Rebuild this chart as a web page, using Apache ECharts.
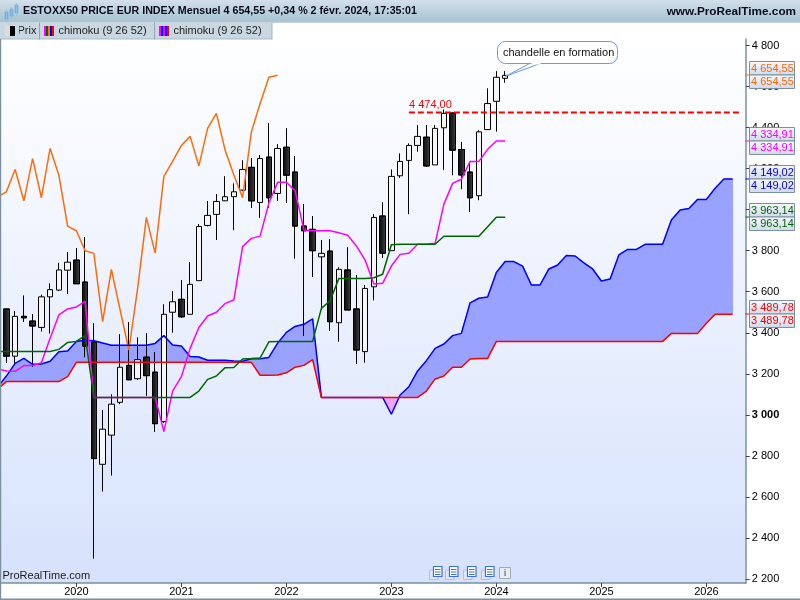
<!DOCTYPE html>
<html><head><meta charset="utf-8">
<style>html,body{margin:0;padding:0;background:#fff}#c{width:800px;height:600px}</style>
<script src="https://cdn.jsdelivr.net/npm/echarts@6/dist/echarts.min.js"></script>
</head><body><div id="c"></div>
<script>
// Month list starts in Apr 2019 (just off the left edge) and ends in May 2026
const startYear = 2019, startMonth = 4, monthCount = 86;
const yTicks = [2200,2400,2600,2800,3000,3200,3400,3600,3800,4000,4200,4400,4600,4800];

const opens  = [3430,3516,3286,3480,3457,3426,3575,3608,3705,3754,3647,3354,2759,2901,3061,3241,3176,3281,3208,2967,3500,3563,3490,3654,3923,3977,4043,4063,4095,4206,4035,4256,4079,4304,4183,3920,3904,3770,3798,3449,3706,3516,3308,3624,3969,3800,4165,4240,4313,4353,4218,4399,4471,4293,4183,4068,4390,4528,4640];
const closes = [3516,3286,3480,3473,3433,3575,3610,3706,3744,3639,3335,2787,2930,3052,3232,3171,3269,3191,2957,3490,3551,3478,3636,3918,3972,4040,4063,4087,4196,4043,4249,4058,4298,4168,3920,3897,3800,3787,3454,3709,3511,3316,3616,3962,3788,4162,4235,4313,4357,4213,4396,4469,4290,4169,4058,4379,4517,4645,4654.55];
const lows   = [3420,3253,3248,3454,3234,3406,3396,3603,3589,3639,3281,2300,2626,2704,3052,3171,3170,3094,2918,2961,3400,3473,3490,3654,3918,3852,4042,3900,4090,4009,3960,4010,4042,4033,3762,3384,3673,3511,3409,3356,3511,3248,3254,3558,3766,3800,4155,3978,4282,4209,4218,4194,4168,4100,3989,4046,4390,4380,4618];
const highs  = [3530,3516,3506,3581,3491,3586,3641,3741,3793,3813,3866,3446,3024,3100,3393,3451,3378,3397,3305,3539,3603,3657,3745,3930,4042,4076,4163,4128,4241,4251,4266,4421,4319,4396,4261,4027,3969,3852,3855,3719,3816,3681,3633,3978,4035,4196,4274,4323,4412,4412,4412,4488,4471,4330,4227,4387,4591,4675,4675];

const tenkan = [3223,3214,3212,3240,3240,3254,3373,3487,3516,3526,3553,3085,3085,3085,3085,3085,3085,3085,3085,2918,3116,3186,3324,3426,3482,3500,3543,3560,3820,3860,3871,4032,4133,4133,4092,3901,3897,3897,3897,3887,3875,3823,3754,3638,3641,3725,3782,3787,3831,3831,3836,4027,4128,4148,4235,4235,4294,4334.91,4334.91];
const kijun  = [3309,3309,3309,3309,3309,3309,3309,3319,3353,3358,3386,3085,3085,3085,3085,3085,3085,3085,3085,3085,3085,3085,3085,3116,3173,3189,3230,3231,3272,3274,3277,3356,3358,3358,3358,3358,3358,3519,3556,3665,3665,3665,3665,3668,3685,3829,3831,3831,3831,3831,3831,3870,3870,3870,3870,3870,3917,3963.14,3963.14];
const spanA  = [3135,3189,3251,3275,3246,3248,3261,3308,3311,3357,3363,3361,3350,3339,3339,3339,3339,3339,3348,3386,3340,3335,3284,3282,3266,3266,3266,3262,3261,3273,3273,3280,3349,3402,3431,3441,3468,3085,3085,3085,3085,3085,3085,3085,3085,3003,3097,3137,3214,3264,3324,3345,3386,3397,3546,3568,3574,3694,3747,3747,3725,3633,3633,3711,3730,3777,3774,3741,3711,3652,3662,3779,3806,3806,3831,3831,3831,3949,3998,4006,4050,4050,4104,4149.02,4149.02];
const spanB  = [3125,3162,3162,3162,3162,3162,3162,3162,3186,3256,3256,3256,3256,3256,3256,3256,3256,3256,3256,3256,3256,3256,3256,3256,3256,3256,3256,3256,3256,3256,3193,3193,3194,3205,3232,3241,3269,3085,3085,3085,3085,3085,3085,3085,3085,3085,3085,3085,3085,3116,3175,3189,3232,3232,3272,3275,3275,3358,3358,3358,3358,3358,3358,3358,3358,3358,3358,3358,3358,3358,3358,3358,3358,3358,3358,3358,3358,3397,3397,3397,3397,3446,3489.78,3489.78,3489.78];
const level = 4474;
const levelFrom = 47;
const tags = [[4654.55,'#ff6600'],[4334.91,'#ff00ff'],[4149.02,'#0000ff'],[3963.14,'#006600'],[3489.78,'#ff0000']];

const months = [];
for (let i = 0; i < monthCount; i++) {
  const t = startYear * 12 + startMonth - 1 + i;
  months.push(Math.floor(t / 12) + '-' + String(t % 12 + 1).padStart(2, '0'));
}
const candleData = opens.map((o, i) => [o, closes[i], lows[i], highs[i]]);
const chikou = closes.slice(26);
const levelData = months.map((m, i) => i >= levelFrom ? level : null);
const cloudSegs = spanA.slice(0, -1).map((a, i) => [i, a, spanB[i], spanA[i + 1], spanB[i + 1]]);

const frNum = (v, d) => {
  const s = v.toFixed(d).split('.');
  return s[0].replace(/\B(?=(\d{3})+$)/g, ' ') + (d ? ',' + s[1] : '');
};
const FONT = '"Liberation Sans", Arial, sans-serif';
const BORDER = '#7b909c';
const isJan = (idx, val) => val.endsWith('-01');

function line(data, color, extra) {
  return Object.assign({ type: 'line', data, symbol: 'none', showSymbol: false,
    lineStyle: { color, width: 1.5 }, itemStyle: { color }, animation: false, silent: true }, extra || {});
}

const BLUE_FILL = '#9aa2ff', PINK_FILL = '#f0a3fa';
function renderCloud(params, api) {
  const k = api.value(0), a0 = api.value(1), b0 = api.value(2), a1 = api.value(3), b1 = api.value(4);
  const pa0 = api.coord([k, a0]), pb0 = api.coord([k, b0]), pa1 = api.coord([k + 1, a1]), pb1 = api.coord([k + 1, b1]);
  const d0 = a0 - b0, d1 = a1 - b1;
  const poly = (points, fill) => ({ type: 'polygon', shape: { points },
    style: { fill, stroke: fill, lineWidth: 1 } });
  const children = [];
  if (d0 * d1 < 0) {
    const t = d0 / (d0 - d1);
    const c = [pa0[0] + t * (pa1[0] - pa0[0]), pa0[1] + t * (pa1[1] - pa0[1])];
    children.push(poly([pa0, c, pb0], d0 > 0 ? BLUE_FILL : PINK_FILL));
    children.push(poly([c, pa1, pb1], d1 > 0 ? BLUE_FILL : PINK_FILL));
  } else if (d0 !== 0 || d1 !== 0) {
    children.push(poly([pa0, pa1, pb1, pb0], (d0 + d1) > 0 ? BLUE_FILL : PINK_FILL));
  }
  return { type: 'group', children };
}

const chart = echarts.init(document.getElementById('c'), null, { width: 800, height: 600, renderer: 'canvas' });

const darkGrad = new echarts.graphic.LinearGradient(0, 0, 1, 0, [
  { offset: 0, color: '#0a0a0a' }, { offset: 0.5, color: '#222222' }, { offset: 1, color: '#484848' }]);

const option = {
  animation: false,
  backgroundColor: '#ffffff',
  grid: { left: -6.75, top: 39, width: 752.5, height: 544, containLabel: false, outerBoundsMode: 'none' },
  xAxis: {
    type: 'category', data: months, boundaryGap: true,
    axisLine: { show: true, lineStyle: { color: BORDER, width: 1.5 } },
    axisTick: { show: true, interval: isJan, alignWithLabel: true, length: 4, lineStyle: { color: '#445' } },
    axisLabel: { interval: isJan, formatter: v => v.slice(0, 4), color: '#000', fontFamily: FONT, fontSize: 11, margin: 3, hideOverlap: false },
    splitLine: { show: false }
  },
  yAxis: {
    type: 'value', position: 'right', min: 2180.5, max: 4831.6, scale: true,
    axisLine: { show: true, onZero: false, lineStyle: { color: BORDER, width: 1.5 } },
    axisTick: { show: true, length: 4, customValues: yTicks, lineStyle: { color: '#445' } },
    axisLabel: {
      customValues: yTicks, color: '#000', fontFamily: FONT, fontSize: 11, margin: 6,
      hideOverlap: false, showMinLabel: true, showMaxLabel: true,
      formatter: v => v === 3000 ? '{b|' + frNum(v, 0) + '}' : frNum(v, 0),
      rich: { b: { fontWeight: 'bold', fontFamily: FONT, fontSize: 11, color: '#000' } }
    },
    splitLine: { show: false }
  },
  series: [
    { type: 'custom', data: cloudSegs, renderItem: renderCloud, encode: { x: 0, y: [1, 2] }, clip: true, silent: true, animation: false, z: 1 },
    { type: 'candlestick', data: candleData, barWidth: 6, clip: true, silent: true, animation: false, z: 2,
      itemStyle: { color: '#f6f6f6', color0: darkGrad, borderColor: '#000', borderColor0: '#000', borderWidth: 1 } },
    line(chikou, '#ff6a0a', { z: 3 }),
    line(spanA, '#0000ff', { z: 3 }),
    line(spanB, '#ff0000', { z: 4 }),
    line(tenkan, '#ff00ff', { z: 5 }),
    line(kijun, '#006600', { z: 6 }),
    line(levelData, '#ff0000', { z: 7, lineStyle: { color: '#ff0000', width: 2, type: [6, 3] } })
  ]
};
chart.setOption(option);

// Chrome, drawn once the scale is known
const els = [];
const rect = (x, y, w, h, style, z, r) => els.push({ type: 'rect', silent: true, z: z === undefined ? 100 : z,
  shape: { x, y, width: w, height: h, r: r || 0 }, style });
const text = (x, y, s, fill, font, align, z) => els.push({ type: 'text', silent: true, z: z || 110, x, y,
  style: { text: s, fill, font, align: align || 'left', verticalAlign: 'middle' } });
const vgrad = (stops) => new echarts.graphic.LinearGradient(0, 0, 0, 1, stops);

// plot background
rect(1, 39, 744.5, 544, { fill: vgrad([{ offset: 0, color: '#ffffff' }, { offset: 1, color: '#d6e2fc' }]) }, -10);
// header
rect(0, 0, 800, 21.5, { fill: vgrad([{ offset: 0, color: '#d3e0e9' }, { offset: 1, color: '#a7c3d2' }]) });
rect(0, 21.5, 800, 1, { fill: '#8fa5b2' });
text(23, 11.5, 'ESTOXX50 PRICE EUR INDEX Mensuel ' + frNum(closes[closes.length - 1], 2) + ' +0,34 % 2 févr. 2024, 17:35:01', '#0a0a1e', 'bold 10.7px ' + FONT);
text(796, 11.5, 'www.ProRealTime.com', '#0a0a1e', 'bold 11.75px ' + FONT, 'right');
// header icon
[[5, 12, 7], [10, 9, 7], [15, 5, 8]].forEach(b => {
  rect(b[0], b[1], 3, b[2], { fill: '#7fb6e4', stroke: '#5f9fd8', lineWidth: 0.5 });
  rect(b[0] + 1, b[1] - 2, 1, b[2] + 5, { fill: '#8fbfe6' });
});
// legend strip
rect(0, 22.5, 272, 16.5, { fill: '#c9d7e0' });
rect(0, 38.5, 272, 1, { fill: '#a9bcc8' });
rect(271.5, 22.5, 1, 17, { fill: '#9fb3bf' });
rect(39, 22.5, 1, 17, { fill: '#8fa5b2' });
rect(154, 22.5, 1, 17, { fill: '#8fa5b2' });
text(17.5, 31, 'Prix', '#222', '11px ' + FONT);
rect(15, 24, 4, 13, { fill: '#c9d7e0' }, 115);
rect(5, 26, 5, 10, { fill: '#dddddd' }, 116);
rect(10, 26, 5, 10, { fill: '#000000' }, 116);
const icon = (x, cols) => cols.forEach((c, i) => rect(x + i * 2, 26, 2, 10, { fill: c }));
icon(44, ['#ff00ff', '#006600', '#ff7700', '#0000ff', '#ff0000']);
icon(159, ['#ff00ff', '#0000ff', '#ff00ff', '#0000ff', '#ff0000']);
text(58.5, 31, 'chimoku (9 26 52)', '#222', '11px ' + FONT);
text(173.5, 31, 'chimoku (9 26 52)', '#222', '11px ' + FONT);
// frame
rect(0, 39, 1.2, 560, { fill: BORDER });
rect(0, 598.5, 800, 1.5, { fill: BORDER });
// watermark
text(2.5, 576, 'ProRealTime.com', '#1a1a1a', '11px ' + FONT);
// value tags
tags.forEach(t => {
  const y = Math.round(chart.convertToPixel({ yAxisIndex: 0 }, t[0]));
  rect(745.5, y - 0.5, 4, 1, { fill: t[1] });
  [y - 13.5, y].forEach(top => {
    rect(749.5, top, 45, 13.5, { fill: vgrad([{ offset: 0, color: '#f6f8fc' }, { offset: 1, color: '#cfdaec' }]), stroke: '#7b909c', lineWidth: 1 });
    text(751, top + 7.2, frNum(t[0], 2), t[1], '11px ' + FONT);
  });
});
// level label
text(409, 105, frNum(level, 2), '#ff0000', '11px ' + FONT);
// callout
const calloutTipIdx = closes.length - 1;
const tip = chart.convertToPixel({ xAxisIndex: 0, yAxisIndex: 0 }, [calloutTipIdx, closes[calloutTipIdx]]);
els.push({ type: 'polygon', silent: true, z: 119, shape: { points: [[530.5, 63], [tip[0] + 0.5, tip[1] + 1], [541.5, 63]] },
  style: { fill: '#ffffff', stroke: '#6c96e6', lineWidth: 1 } });
rect(497.5, 41.5, 120, 22, { fill: '#ffffff', stroke: '#6c96e6', lineWidth: 1 }, 120, 8);
rect(531.5, 62.5, 9, 2, { fill: '#ffffff' }, 121);
text(503, 52.5, 'chandelle en formation', '#111', '11px ' + FONT, 'left', 122);
// toolbar icons
[429.5, 445.5, 463.5, 481.5].forEach(x => {
  rect(x, 570, 8.5, 9.5, { fill: '#dde6fb', stroke: '#a9c0f0', lineWidth: 1 }, 100);
  rect(x + 4, 566.5, 8.5, 10, { fill: '#ffffff', stroke: '#3d70d8', lineWidth: 1.2 }, 101);
  [569, 571.5, 574].forEach(ly => rect(x + 5.5, ly, 5.5, 1, { fill: '#3d70d8' }, 102));
});
rect(499.5, 567.5, 11, 11, { fill: '#e8edf2', stroke: '#a2aab2', lineWidth: 1 }, 100);
text(505, 573.5, 'i', '#8a929a', 'bold 11px "Liberation Serif", serif', 'center');

chart.setOption({ graphic: { elements: els } });
</script></body></html>
